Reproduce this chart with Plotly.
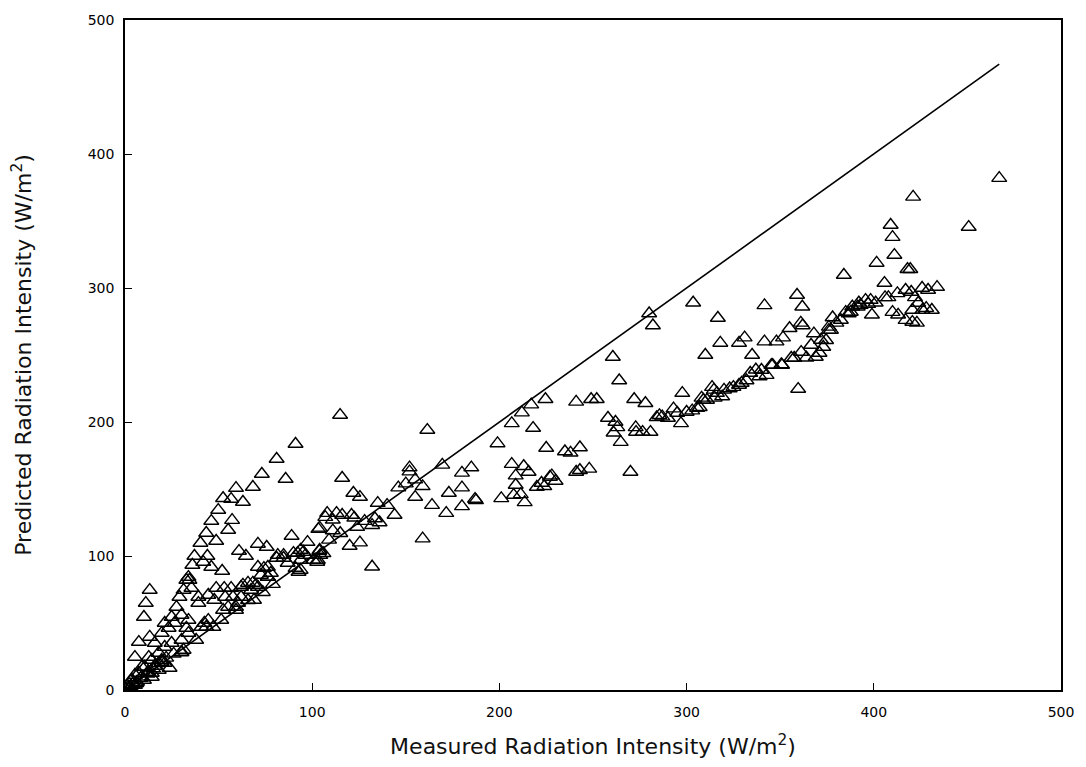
import plotly.graph_objects as go

# 1:1 reference line (measured = predicted)
line_x = [0, 467]
line_y = [0, 467]

# Steep low branch near the origin
meas_a = [1.1, 3.7, 5.3, 7.4, 9.0, 10.6, 12.7, 14.3, 15.9, 18.0, 19.6, 21.2, 21.2, 23.3, 24.9,
          24.9, 26.5, 27.5, 29.1, 30.2, 31.3, 31.3, 32.8, 32.8, 33.9, 33.9, 34.4, 35.5, 36.0]
pred_a = [3.7, 7.5, 11.2, 12.7, 17.2, 17.2, 24.6, 22.4, 35.1, 27.6, 42.5, 50.0, 32.1, 46.3, 54.5,
          35.1, 50.0, 61.9, 69.4, 56.0, 74.6, 29.9, 82.1, 46.3, 84.3, 52.2, 82.1, 76.1, 93.3]

# Scatter close to the origin
meas_b = [13.2, 11.1, 10.1, 7.4, 5.3, 13.2, 21.2, 23.8, 18.0, 14.3, 10.1, 5.3, 2.6, 0.5, 1.6,
          4.2, 6.4, 8.5, 12.2, 15.9, 19.6, 3, 6, 9, 12, 15, 18, 22, 26, 30]
pred_b = [74.6, 64.9, 54.5, 35.8, 24.6, 39.6, 20.1, 16.4, 14.9, 9.7, 7.5, 3.7, 1.5, 0.7, 2.2,
          4.5, 6.0, 9.0, 13.4, 17.9, 22.4, 3, 5, 10, 12, 16, 20, 24, 27, 28]

# Upper branch
meas_c = [37.1, 40.3, 43.4, 44.0, 41.8, 46.1, 46.1, 48.7, 49.8, 51.9, 52.4, 55.1, 56.7, 57.2, 59.3,
          63.0, 68.3, 73.1, 81.0, 85.8, 91.1, 114.9, 116.0, 60.9, 64.6, 71.0, 75.7, 89.0, 97.5, 103.3]
pred_c = [100.0, 109.7, 117.2, 100.0, 95.5, 91.8, 126.1, 111.2, 134.3, 88.8, 143.1, 119.4, 142.5, 126.8, 150.7,
          140.3, 151.5, 161.2, 172.4, 157.5, 183.6, 205.2, 158.2, 103.7, 100.0, 109.0, 106.7, 114.9, 110.4, 120.1]

# Middle band (40-105)
meas_d = [39.2, 39.2, 42.4, 43.4, 44.5, 47.7, 48.7, 52.4, 53.0, 53.5, 56.7, 57.7, 59.3, 62.0, 60.4,
          63.0, 65.7, 68.3, 68.9, 69.9, 71.0, 72.6, 74.2, 76.3, 76.3, 77.9, 81.0, 81.6, 84.7, 84.7,
          90.0, 92.2, 93.8, 95.3, 96.4, 93.8, 92.7, 91.1, 93.8, 100.6, 102.7, 103.8, 104.3, 67.3, 62.0,
          55.1, 44.5, 40.8, 30.2, 33.9, 30.2, 19.6, 14.3, 71.0, 76.3, 86.9, 79, 73.6, 65.7, 59.3,
          51.4, 47.2, 38]
pred_d = [69.4, 64.9, 50.0, 47.0, 70.9, 67.2, 76.1, 59.7, 76.1, 69.4, 76.1, 69.4, 61.9, 76.9, 64.9,
          78.4, 79.9, 79.9, 67.2, 78.4, 91.8, 85.8, 91.0, 84.3, 91.8, 87.3, 98.5, 100.7, 98.5, 100.7,
          102.2, 102.2, 104.5, 103.0, 100.7, 97.0, 88.1, 91.0, 89.6, 97.0, 95.5, 103.7, 100.7, 74.6, 69.4,
          61.9, 52.2, 47.0, 37.3, 42.5, 28.4, 20.9, 12.7, 76.9, 84.3, 94.8, 79, 73, 67, 59.7,
          52.2, 47, 37.3]

# 100-190
meas_e = [161.5, 152, 152, 146, 150, 155, 159, 155, 169.5, 180, 185, 173, 180, 164, 171.6,
          180, 187, 187.5, 159, 122, 125.5, 135, 144, 133.5, 136, 132, 121, 122.5, 124, 116,
          113, 108, 107, 111, 104, 111, 120, 125.5, 132, 104, 103, 106, 109, 115, 128, 140]
pred_e = [194, 166, 163, 151, 154, 157, 152, 144, 168, 162, 166, 147, 151, 138, 132,
          137, 142.5, 141.5, 113, 147, 144, 139.5, 130.6, 128, 125, 123, 130.6, 128.5, 121.6, 130.6,
          132, 132, 129, 127, 121, 119, 107.5, 110, 92, 104.5, 97, 102, 112, 117, 126, 138]

# 195-270
meas_f = [199, 206.6, 212, 217, 224.6, 218, 225, 206.6, 213, 215.6, 208.7, 208.7, 207.6, 211.4, 213.5,
          201, 220, 222.5, 224, 227, 228, 235, 243, 238, 241, 243, 248, 270, 230]
pred_f = [184, 199, 207, 213, 217, 195.5, 180.6, 168.6, 167, 162.7, 160, 153, 145.5, 146, 140,
          143, 151.5, 154.5, 152, 159, 160, 178, 181, 177, 162.7, 164, 165, 162.7, 156]

# 240-305
meas_g = [241, 252, 264, 272, 278, 260.6, 258, 262, 263, 261, 264.8, 272.8, 273, 276.5, 280.7,
          285.5, 287, 284, 293, 297.7, 297, 280, 282, 303.5, 295, 290, 249]
pred_g = [215, 217, 231, 217, 214, 248.5, 203, 200, 196, 192, 185, 196, 192.5, 192.5, 192.5,
          205, 204, 203.5, 210, 221.6, 199, 281, 272, 289, 206.7, 203, 217]

# 300-360
meas_h = [300, 303, 307, 309, 314.6, 320, 315, 319, 323, 328, 332, 334, 337, 339, 342.7,
          346, 351, 310, 318, 316.7, 341.6, 328, 331, 341.6, 335, 348, 351.5, 355, 357.5, 350.6,
          308, 313.6, 325, 305.6, 310.9, 316.2, 329.4, 340, 345.3, 355.9]
pred_h = [207.5, 208.5, 211, 216.4, 224, 224, 218, 219, 225, 227.6, 231, 236.6, 239, 234, 235,
          242.5, 242.5, 250, 259, 277.6, 287, 259, 263, 260, 250, 260, 263, 270, 247.8, 243,
          218, 226, 226, 210.4, 216.4, 221.6, 229.1, 238.8, 242.5, 247.8]

# 355-470
meas_i = [359, 361.8, 359.6, 361, 362, 368, 364, 369, 371, 373, 374.5, 376, 376, 378, 380,
          385, 386.6, 388.5, 391.4, 392, 395.6, 397, 399, 401, 406, 407.8, 412.6, 417, 420, 422,
          423.7, 425.8, 429, 433.8, 410, 413, 417, 420.6, 423, 420.6, 426, 431, 428, 384, 401.5,
          405.7, 409, 410, 411, 418, 419.5, 421, 450.7, 467, 361.2, 366.5, 371.8, 377.1, 382.4, 387.7,
          393, 398.3]
pred_i = [294.8, 286, 224.6, 274, 272, 266, 248, 248.5, 251.5, 256, 261, 268.6, 271, 278, 274,
          282, 281, 286, 286, 289, 291, 288, 280, 289, 293, 293, 296, 298.5, 297, 293,
          288.8, 300, 298.5, 300.7, 282, 280, 276, 274.6, 274, 283.6, 283.6, 283.6, 285, 309.7, 318.7,
          303.7, 347, 338, 324.6, 314, 314, 368, 345.5, 382, 252.2, 257.5, 261.2, 268.7, 276.1, 282.1,
          287.3, 291]

measured = meas_a + meas_b + meas_c + meas_d + meas_e + meas_f + meas_g + meas_h + meas_i
predicted = pred_a + pred_b + pred_c + pred_d + pred_e + pred_f + pred_g + pred_h + pred_i
for mx, py in [(meas_a, pred_a), (meas_b, pred_b), (meas_c, pred_c), (meas_d, pred_d), (meas_e, pred_e),
               (meas_f, pred_f), (meas_g, pred_g), (meas_h, pred_h), (meas_i, pred_i)]:
    assert len(mx) == len(py), (len(mx), len(py))

tick_vals = [0, 100, 200, 300, 400, 500]
tick_text = ["0", "100", "200", "300", "400", "500"]

fig = go.Figure()
fig.add_trace(go.Scatter(x=line_x, y=line_y, mode="lines",
                         line=dict(color="black", width=1.6), hoverinfo="skip"))
fig.add_trace(go.Scatter(x=measured, y=predicted, mode="markers",
                         marker=dict(symbol="triangle-up-open", size=13, color="black",
                                     line=dict(width=1.4, color="black"))))

axis_font = dict(family="DejaVu Sans", size=14, color="black")
title_font = dict(family="DejaVu Sans", size=22, color="#111")

fig.update_layout(
    width=1086, height=767,
    margin=dict(l=125, r=20, t=20, b=77),
    paper_bgcolor="white", plot_bgcolor="white",
    showlegend=False,
    xaxis=dict(range=[0, 500], tickvals=tick_vals, ticktext=tick_text,
               ticks="inside", ticklen=7, tickwidth=1.2, tickcolor="black",
               showline=True, linewidth=1.6, linecolor="black", mirror=True,
               showgrid=False, zeroline=False, tickfont=axis_font, ticklabelstandoff=8,
               title=dict(text="Measured Radiation Intensity (W/m<sup>2</sup>)", font=title_font, standoff=20)),
    yaxis=dict(range=[0, 500], tickvals=tick_vals, ticktext=tick_text,
               ticks="inside", ticklen=7, tickwidth=1.2, tickcolor="black",
               showline=True, linewidth=1.6, linecolor="black", mirror=True,
               showgrid=False, zeroline=False, tickfont=axis_font, ticklabelstandoff=6,
               title=dict(text="Predicted Radiation Intensity (W/m<sup>2</sup>)", font=title_font, standoff=50)),
)

fig.write_html("out.html")
